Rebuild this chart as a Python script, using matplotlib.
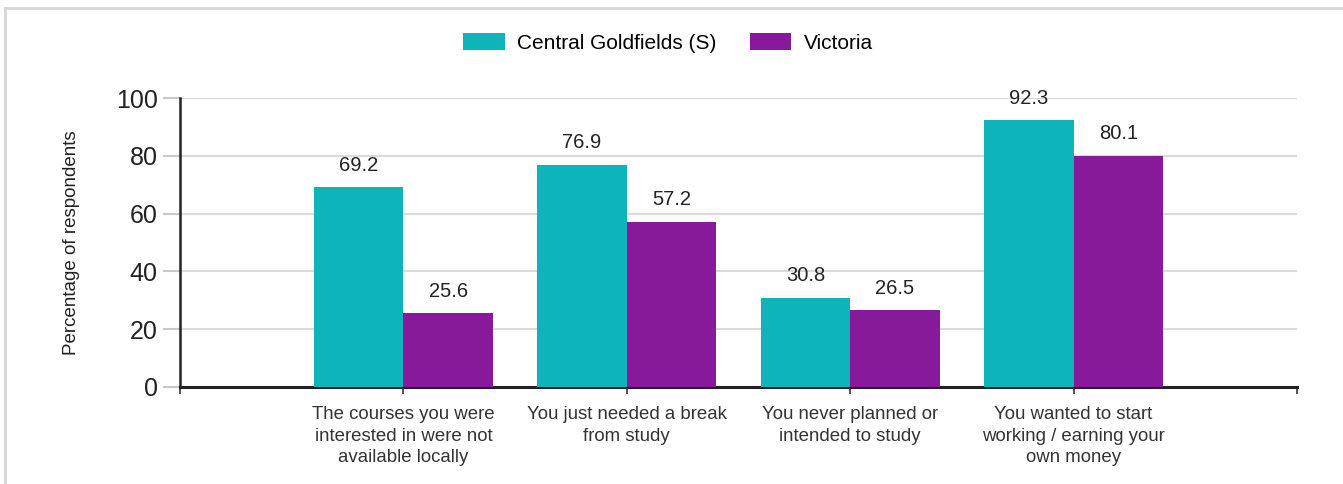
import matplotlib
matplotlib.use("Agg")
import matplotlib.pyplot as plt
from matplotlib.lines import Line2D
import numpy as np

plt.rcParams['font.family'] = ['Liberation Sans', 'DejaVu Sans']

categories = [
    "The courses you were\ninterested in were not\navailable locally",
    "You just needed a break\nfrom study",
    "You never planned or\nintended to study",
    "You wanted to start\nworking / earning your\nown money",
]
series_names = ["Central Goldfields (S)", "Victoria"]
central = [69.2, 76.9, 30.8, 92.3]
victoria = [25.6, 57.2, 26.5, 80.1]
yticks = [0, 20, 40, 60, 80, 100]

teal = "#0DB4B9"
purple = "#861A9A"

W, H = 1343, 484
fig = plt.figure(figsize=(W / 100, H / 100), dpi=100)
ax = fig.add_axes([180 / W, 1 - 387 / H, (1297 - 180) / W, (387 - 98) / H])

x = np.arange(len(categories))
bw = 0.4
b1 = ax.bar(x - bw / 2, central, bw, color=teal, label=series_names[0], zorder=3)
b2 = ax.bar(x + bw / 2, victoria, bw, color=purple, label=series_names[1], zorder=3)

for bars, vals in ((b1, central), (b2, victoria)):
    for rect, v in zip(bars, vals):
        ax.annotate(f"{v:.1f}", (rect.get_x() + rect.get_width() / 2, v),
                    xytext=(0, 9), textcoords="offset points",
                    ha="center", va="bottom", fontsize=14.5, color="#222222")

ax.set_xlim(-1, 4)
ax.set_ylim(0, 100)
ax.set_yticks(yticks)
ax.set_yticklabels([str(t) for t in yticks], fontsize=18, color="#222222")
ax.tick_params(axis="y", length=12, width=1.5, color="#c8c8c8", pad=4)
ax.yaxis.grid(True, color="#dadada", linewidth=1.5, zorder=0)
ax.set_axisbelow(True)

ax.set_xticks([-1, 0, 1, 2, 3, 4])
ax.set_xticklabels([""] + categories + [""], fontsize=13.4, color="#333333",
                   linespacing=1.32, va="top")
ax.tick_params(axis="x", length=5, width=1.2, color="#333333", pad=9)

for s in ("top", "right"):
    ax.spines[s].set_visible(False)
ax.spines["left"].set_color("#222222")
ax.spines["left"].set_linewidth(1.8)
ax.spines["bottom"].set_color("#222222")
ax.spines["bottom"].set_linewidth(2.2)

fig.text(72 / W, 1 - 243 / H, "Percentage of respondents", rotation=90,
         ha="center", va="center", fontsize=13.5, color="#222222")

fig.legend(handles=[b1, b2], labels=series_names, loc="center",
           bbox_to_anchor=(668 / W, 1 - 43 / H), ncol=2, frameon=False,
           fontsize=15, handlelength=2.0, handleheight=0.85, columnspacing=1.6,
           handletextpad=0.6)

# outer border
fig.add_artist(Line2D([4.5 / W, 1], [1 - 7.5 / H] * 2, transform=fig.transFigure,
                      color="#d6d6d6", linewidth=2))
fig.add_artist(Line2D([4.5 / W] * 2, [0, 1 - 7.5 / H], transform=fig.transFigure,
                      color="#d6d6d6", linewidth=2))

fig.savefig("out.png", dpi=100)
